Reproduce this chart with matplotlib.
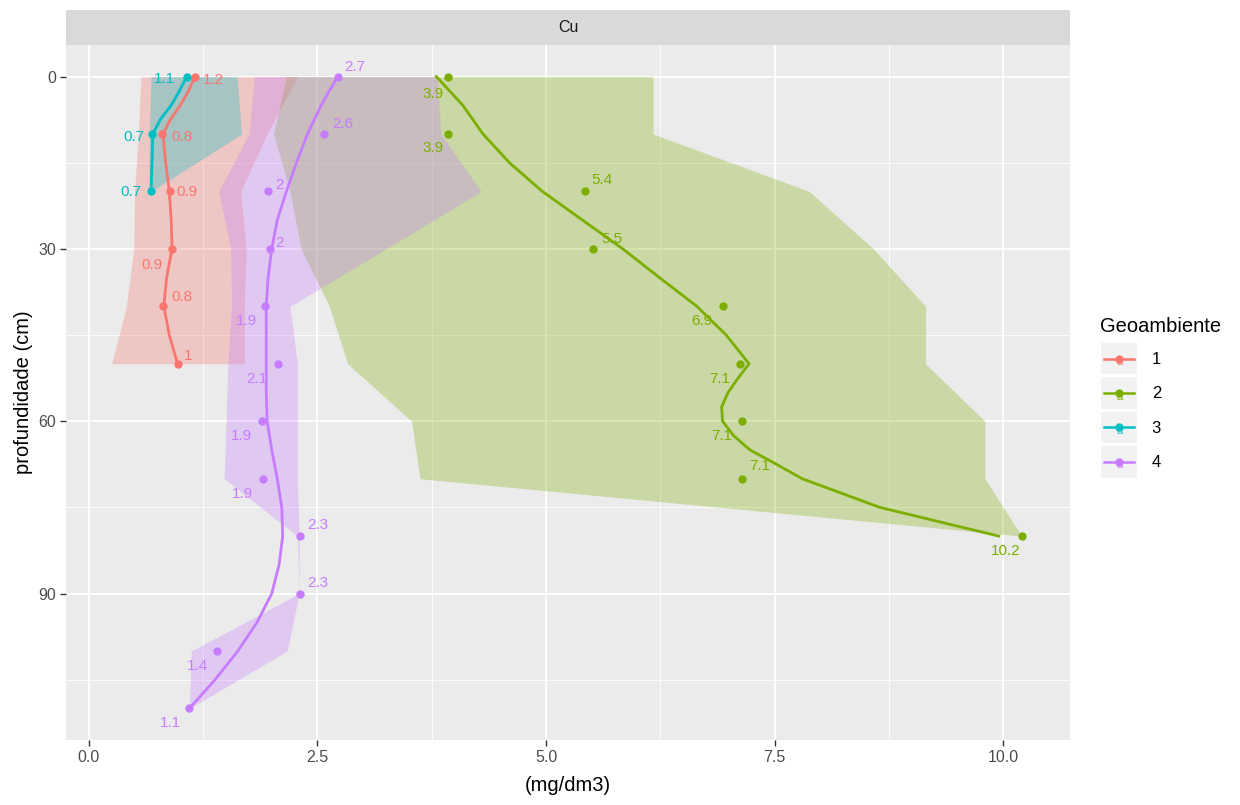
import matplotlib
matplotlib.use("Agg")
import matplotlib.pyplot as plt
from matplotlib.legend_handler import HandlerBase
from matplotlib.lines import Line2D
from matplotlib.patches import Rectangle
from matplotlib.text import Text

plt.rcParams["font.family"] = ["Liberation Sans", "DejaVu Sans"]

GROUPS = ["1", "2", "3", "4"]
COLORS = ["#F8766D", "#7CAE00", "#00BFC4", "#C77CFF"]

# mean Cu per depth (points + labels)
depth_1 = [0, 10, 20, 30, 40, 50]
cu_1 = [1.16, 0.80, 0.89, 0.91, 0.81, 0.97]
depth_2 = [0, 10, 20, 30, 40, 50, 60, 70, 80]
cu_2 = [3.93, 3.93, 5.43, 5.51, 6.94, 7.12, 7.14, 7.14, 10.21]
depth_3 = [0, 10, 20]
cu_3 = [1.07, 0.69, 0.68]
depth_4 = [0, 10, 20, 30, 40, 50, 60, 70, 80, 90, 100, 110]
cu_4 = [2.72, 2.57, 1.96, 1.98, 1.93, 2.07, 1.89, 1.90, 2.31, 2.31, 1.40, 1.10]

# range (ribbons)
cu_min_1 = [0.57, 0.54, 0.50, 0.49, 0.41, 0.25]
cu_max_1 = [2.28, 1.95, 1.66, 1.72, 1.70, 1.70]
cu_min_2 = [2.16, 2.02, 2.20, 2.32, 2.63, 2.83, 3.53, 3.62, 10.2]
cu_max_2 = [6.17, 6.17, 7.88, 8.58, 9.15, 9.15, 9.80, 9.80, 10.2]
cu_min_3 = [0.68, 0.66, 0.66]
cu_max_3 = [1.62, 1.67, 0.68]
cu_min_4 = [1.81, 1.75, 1.42, 1.55, 1.56, 1.52, 1.50, 1.48, 2.28, 2.30, 1.12, 1.10]
cu_max_4 = [3.81, 3.85, 4.29, 3.25, 2.20, 2.28, 2.28, 2.28, 2.30, 2.30, 2.17, 1.10]

# smoothed profiles
smooth_depth_1 = [0, 2.5, 5, 7.5, 10, 15, 20, 25, 30, 35, 40, 45, 50]
smooth_cu_1 = [1.16, 1.09, 1.0, 0.89, 0.81, 0.84, 0.88, 0.90, 0.91, 0.85, 0.82, 0.88, 0.97]
smooth_depth_2 = [0, 5, 10, 15, 20, 25, 30, 35, 40, 45, 50, 52.5, 55, 57.5, 60,
                  62.5, 65, 67.5, 70, 75, 80]
smooth_cu_2 = [3.8, 4.09, 4.31, 4.6, 4.96, 5.4, 5.84, 6.24, 6.65, 6.97, 7.22, 7.1,
               6.99, 6.92, 6.93, 7.05, 7.23, 7.52, 7.8, 8.65, 9.95]
smooth_depth_3 = [0, 2.5, 5, 7.5, 10, 15, 20]
smooth_cu_3 = [1.07, 0.99, 0.90, 0.78, 0.70, 0.69, 0.68]
smooth_depth_4 = [0, 5, 10, 15, 20, 25, 30, 35, 40, 45, 50, 55, 60, 65, 70, 75, 80,
                  85, 90, 95, 100, 105, 110]
smooth_cu_4 = [2.72, 2.54, 2.39, 2.27, 2.16, 2.06, 2.0, 1.96, 1.94, 1.94, 1.94, 1.94,
               1.95, 2.0, 2.06, 2.11, 2.12, 2.08, 2.0, 1.84, 1.63, 1.38, 1.1]

# label nudges in pixels (dx right, dy down)
nudge_1 = [(19, 3), (20, 3), (17, 1), (-20, 16), (19, -9), (11, -8)]
nudge_2 = [(-15, 17), (-15, 14), (17, -11), (19, -10), (-22, 15), (-20, 15),
           (-20, 15), (18, -13), (-17, 15)]
nudge_3 = [(-22, 2), (-18, 3), (-20, 1)]
nudge_4 = [(17, -10), (19, -10), (11, -6), (10, -6), (-19, 15), (-21, 15),
           (-20, 15), (-20, 15), (18, -11), (18, -11), (-19, 15), (-19, 15)]

LABEL_SPACING = 0.65


class KeyHandler(HandlerBase):
    def create_artists(self, legend, orig_handle, xdescent, ydescent,
                       width, height, fontsize, trans):
        color = orig_handle.get_color()
        x0, y0 = -xdescent, -ydescent
        yc = y0 + height / 2
        # grey key box spans the row gap too, like ggplot's keys
        grow = LABEL_SPACING * fontsize / 2 - 1
        bg = Rectangle((x0 + 1, y0 - grow), width - 2, height + 2 * grow,
                       facecolor="#F2F2F2", edgecolor="none", transform=trans)
        ln = Line2D([x0 + 3, x0 + width - 3], [yc, yc], color=color, lw=1.8,
                    transform=trans)
        pt = Line2D([x0 + width / 2], [yc], marker="o", ms=5, color=color,
                    linestyle="none", transform=trans)
        tx = Text(x0 + width / 2, yc + 1, "a", color=color, fontsize=8,
                  ha="center", va="top", transform=trans)
        return [bg, ln, pt, tx]


def draw_group(ax, depth, cu, sd, scu, nudge, color):
    ax.plot(scu, sd, color=color, lw=2.0, zorder=3, solid_joinstyle="round")
    ax.plot(cu, depth, "o", color=color, ms=5, zorder=4)
    for x, y, (dx, dy) in zip(cu, depth, nudge):
        ax.annotate(f"{round(x, 1):g}", (x, y), xytext=(dx, -dy),
                    textcoords="offset pixels", ha="center", va="center",
                    color=color, fontsize=11, zorder=5)


def main():
    fig = plt.figure(figsize=(12.4, 8.05), dpi=100)
    W, H = 1240, 805
    left, right, top, bottom = 66, 1070, 45, 740
    ax = fig.add_axes([left / W, 1 - bottom / H, (right - left) / W, (bottom - top) / H])
    strip = fig.add_axes([left / W, 1 - top / H, (right - left) / W, (top - 10) / H])

    strip.set_facecolor("#D9D9D9")
    strip.set_xticks([])
    strip.set_yticks([])
    for s in strip.spines.values():
        s.set_visible(False)
    strip.text(0.5, 0.5, "Cu", ha="center", va="center", fontsize=11.5, color="#1A1A1A",
               transform=strip.transAxes)

    ax.set_facecolor("#EBEBEB")
    for s in ax.spines.values():
        s.set_visible(False)

    depths = [depth_1, depth_2, depth_3, depth_4]
    cus = [cu_1, cu_2, cu_3, cu_4]
    mins = [cu_min_1, cu_min_2, cu_min_3, cu_min_4]
    maxs = [cu_max_1, cu_max_2, cu_max_3, cu_max_4]
    sds = [smooth_depth_1, smooth_depth_2, smooth_depth_3, smooth_depth_4]
    scus = [smooth_cu_1, smooth_cu_2, smooth_cu_3, smooth_cu_4]
    nudges = [nudge_1, nudge_2, nudge_3, nudge_4]

    # ribbons first, in group order
    for d, lo, hi, c in zip(depths, mins, maxs, COLORS):
        ax.fill_betweenx(d, lo, hi, color=c, alpha=0.3, linewidth=0, zorder=2)

    for i in range(len(GROUPS)):
        draw_group(ax, depths[i], cus[i], sds[i], scus[i], nudges[i], COLORS[i])

    ax.set_xlim(-0.25, 10.73)
    ax.set_ylim(115.5, -5.5)
    ax.set_xticks([0, 2.5, 5, 7.5, 10])
    ax.set_xticklabels(["0.0", "2.5", "5.0", "7.5", "10.0"])
    ax.set_xticks([1.25, 3.75, 6.25, 8.75], minor=True)
    ax.set_yticks([0, 30, 60, 90])
    ax.set_yticks([15, 45, 75, 105], minor=True)
    ax.grid(which="major", color="white", lw=1.3, zorder=0)
    ax.grid(which="minor", color="white", lw=0.6, zorder=0)
    ax.set_axisbelow(True)
    ax.tick_params(which="major", length=4, width=1, color="#333333",
                   labelcolor="#4D4D4D", labelsize=11.5, pad=3)
    ax.tick_params(which="minor", length=0)

    ax.set_xlabel("(mg/dm3)", fontsize=14.5, color="black", labelpad=8)
    ax.set_ylabel("profundidade (cm)", fontsize=14.5, color="black", labelpad=4)

    handles = [Line2D([], [], color=c) for c in COLORS]
    leg = ax.legend(handles, GROUPS, title="Geoambiente", loc="upper left",
                    bbox_to_anchor=(1100 / W, 1 - 317 / H), bbox_transform=fig.transFigure,
                    frameon=False, handler_map={Line2D: KeyHandler()},
                    handlelength=2.3, handleheight=1.8, labelspacing=LABEL_SPACING,
                    handletextpad=0.8, borderpad=0, borderaxespad=0,
                    fontsize=12, title_fontsize=14.5, alignment="left")
    leg.get_title().set_color("black")

    fig.savefig("out.png", dpi=100)


if __name__ == "__main__":
    main()
